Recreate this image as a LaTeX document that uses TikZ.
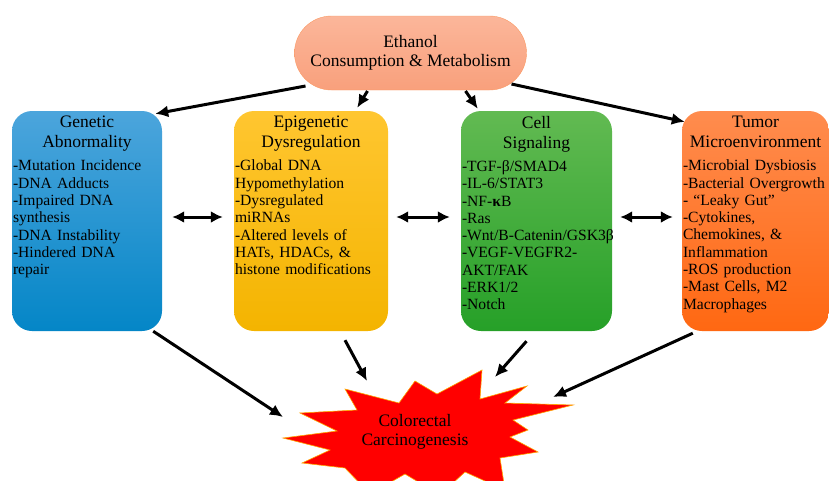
\documentclass[tikz,border=0pt]{standalone}
\usepackage{fontspec}
\setmainfont{Liberation Serif}
\usetikzlibrary{shapes.misc, arrows.meta}
\definecolor{genTop}{RGB}{76,165,220}
\definecolor{genBot}{RGB}{4,134,199}
\definecolor{epiTop}{RGB}{255,198,48}
\definecolor{epiBot}{RGB}{244,180,0}
\definecolor{celTop}{RGB}{98,186,82}
\definecolor{celBot}{RGB}{38,160,40}
\definecolor{tumTop}{RGB}{255,140,78}
\definecolor{tumBot}{RGB}{255,104,18}
\definecolor{ethTop}{RGB}{251,182,154}
\definecolor{ethBot}{RGB}{249,160,124}
\newcommand{\bodyfont}{\fontsize{15.6}{17.3}\selectfont\exhyphenpenalty=10000 \hfuzz=20pt\relax}
\tikzstyle{box}=[rectangle, rounded corners=20pt, inner sep=0pt, minimum height=220pt]
\tikzstyle{boxtext}=[anchor=north, inner sep=0pt, align=left, font=\bodyfont]
\tikzstyle{arr}=[line width=3pt, -{Latex[length=13pt, width=12pt]}]
\tikzstyle{dbl}=[line width=3pt, {Latex[length=12pt, width=12pt]}-{Latex[length=12pt, width=12pt]}]
\newcommand{\ttl}[1]{{\centering\fontsize{17.5}{20}\selectfont #1\par}\vspace{6pt}}

\begin{document}
\begin{tikzpicture}[x=1pt, y=-1pt]
\useasboundingbox (0,0) rectangle (829,480);
% Source
    \node[rounded rectangle, minimum width=232pt, minimum height=74pt, inner sep=0pt,
          draw=ethBot!80!orange, top color=ethTop, bottom color=ethBot, align=center,
          font=\fontsize{17.5}{19.5}\selectfont] (eth) at (410.5,53) {Ethanol\\Consumption \& Metabolism};
% Boxes
    \node[box, minimum width=150pt, top color=genTop, bottom color=genBot] (gen) at (87,221) {};
    \node[box, minimum width=154pt, top color=epiTop, bottom color=epiBot] (epi) at (311,221) {};
    \node[box, minimum width=151pt, top color=celTop, bottom color=celBot] (cel) at (536.5,221) {};
    \node[box, minimum width=147pt, top color=tumTop, bottom color=tumBot] (tum) at (755.5,221) {};
% Box texts
    \node[boxtext, text width=148pt] (gentxt) at ([yshift=-5pt]gen.north) {\ttl{Genetic\\Abnormality}
        -Mutation Incidence\\-DNA Adducts\\-Impaired DNA\\synthesis\\-DNA Instability\\-Hindered DNA\\repair};
    \node[boxtext, text width=152pt] (epitxt) at ([yshift=-5pt]epi.north) {\ttl{Epigenetic\\Dysregulation}
        -Global DNA\\Hypomethylation\\-Dysregulated\\miRNAs\\-Altered levels of\\HATs, HDACs, \&\\histone modifications};
    \node[boxtext, text width=149pt] (celtxt) at ([yshift=-5pt]cel.north) {\ttl{Cell\\Signaling}
        -TGF-β/SMAD4\\-IL-6/STAT3\\-NF-\textbf{κ}B\\-Ras\\-Wnt/B-Catenin/GSK3β\\-VEGF-VEGFR2-\\AKT/FAK\\-ERK1/2\\-Notch};
    \node[boxtext, text width=145pt] (tumtxt) at ([yshift=-5pt]tum.north) {\ttl{Tumor\\Microenvironment}
        -Microbial Dysbiosis\\-Bacterial Overgrowth\\- ``Leaky Gut''\\-Cytokines,\\Chemokines, \&\\Inflammation\\-ROS production\\-Mast Cells, M2\\Macrophages};
% Burst
    \begin{scope}
    \clip (0,0) rectangle (829,480);
    \filldraw[fill=red, draw=orange!70!yellow, line width=0.6pt]
        (283,438) -- (337,431) -- (300,413) -- (357,410) -- (345,389) -- (399,403)
        -- (415,381) -- (437,394) -- (482,370) -- (480,399) -- (527,386) -- (505,403)
        -- (573,405) -- (513,420) -- (528,430) -- (510,437) -- (538,452) -- (500,458)
        -- (505,490) -- (465,472) -- (440,495) -- (405,474) -- (370,494) -- (345,468)
        -- (302,463) -- (330,450) -- cycle;
    \end{scope}
    \node[align=center, font=\fontsize{17.5}{19.5}\selectfont, inner sep=0pt] (crc) at (415,432) {Colorectal\\Carcinogenesis};
% Arrows from ethanol
    \draw[arr] ([xshift=-105pt,yshift=-33pt]eth.center) -- ([xshift=-7pt,yshift=-3pt]gen.north east);
    \draw[arr] ([xshift=-43pt,yshift=-38pt]eth.center) -- ([xshift=-31pt,yshift=3pt]epi.north east);
    \draw[arr] ([xshift=55pt,yshift=-38pt]eth.center) -- ([xshift=17pt,yshift=2pt]cel.north west);
    \draw[arr] ([xshift=101pt,yshift=-31pt]eth.center) -- ([xshift=3pt,yshift=-11pt]tum.north west);
% Cross talk
    \draw[dbl] ([xshift=10pt,yshift=4pt]gen.east) -- ([xshift=-11pt,yshift=4pt]epi.west);
    \draw[dbl] ([xshift=8pt,yshift=4pt]epi.east) -- ([xshift=-11pt,yshift=4pt]cel.west);
    \draw[dbl] ([xshift=8pt,yshift=4pt]cel.east) -- ([xshift=-9pt,yshift=4pt]tum.west);
% Arrows to carcinogenesis
    \draw[arr] ([xshift=-9pt,yshift=0pt]gen.south east) -- ([xshift=-132pt,yshift=15pt]crc.center);
    \draw[arr] ([xshift=34pt,yshift=-9pt]epi.south) -- ([xshift=-48pt,yshift=51pt]crc.center);
    \draw[arr] ([xshift=-10pt,yshift=-10pt]cel.south) -- ([xshift=80pt,yshift=55pt]crc.center);
    \draw[arr] ([xshift=11pt,yshift=-2pt]tum.south west) -- ([xshift=138pt,yshift=35pt]crc.center);
\end{tikzpicture}
\end{document}
